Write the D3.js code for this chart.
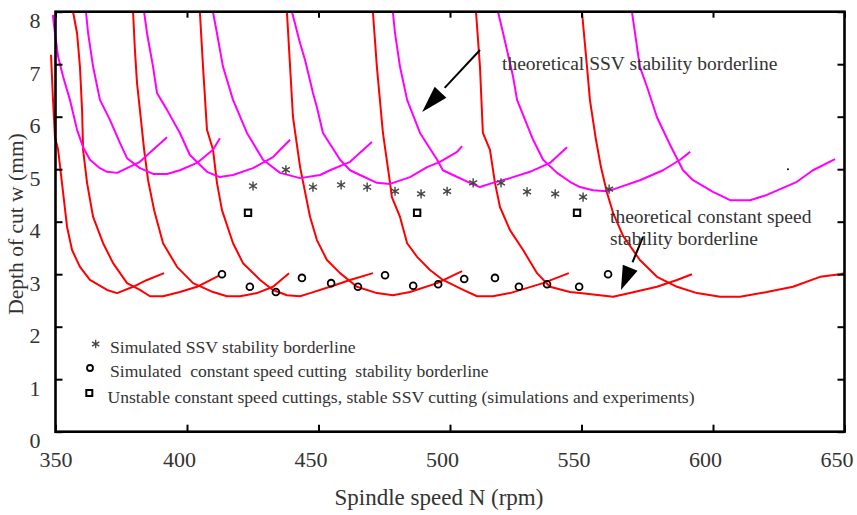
<!DOCTYPE html>
<html><head><meta charset="utf-8">
<script src="https://cdn.jsdelivr.net/npm/d3@7"></script>
<style>
html,body{margin:0;padding:0;background:#fff;}
svg{display:block;}
text{font-family:"Liberation Serif","Times New Roman",serif;fill:#333;}
</style></head>
<body><svg id="chart" width="857" height="515"></svg>
<script>
// ---------- data ----------
const xTicks = [350,400,450,500,550,600,650];
const yTicks = [0,1,2,3,4,5,6,7,8];
const xTitle = "Spindle speed N (rpm)";
const yTitle = "Depth of cut w (mm)";

// theoretical constant speed stability lobes (red) [N rpm, w mm]
const red1 = [[348.3,7.18],[349.0,6.38],[349.8,5.61],[351.0,5.37],[352.9,4.55],[354.4,3.90],[356.3,3.46],[359.3,3.14],[363.1,2.89],[369.6,2.70],[373.4,2.64],[379.5,2.76],[384.8,2.89],[391.3,3.02]];
const red2 = [[356.7,7.99],[358.2,7.59],[359.3,6.95],[360.1,6.13],[360.5,5.37],[362.0,4.74],[364.3,4.09],[368.1,3.59],[371.9,3.21],[377.2,2.83],[382.1,2.70],[385.9,2.58],[390.9,2.58],[397.3,2.66],[403.8,2.76],[412.0,2.97]];
const red3 = [[379.5,7.99],[380.2,7.27],[381.0,6.64],[382.5,5.94],[383.7,5.37],[385.2,4.79],[387.5,4.22],[390.9,3.59],[396.2,3.14],[402.3,2.83],[409.9,2.66],[415.2,2.58],[420.2,2.58],[426.6,2.64],[432.7,2.76],[438.8,3.02]];
const red4 = [[404.9,7.99],[406.1,6.95],[407.6,5.75],[409.9,5.37],[411.4,4.74],[413.3,4.22],[417.5,3.59],[421.3,3.21],[427.8,2.89],[432.7,2.70],[438.0,2.60],[443.0,2.58],[446.8,2.64],[454.4,2.76],[462.0,2.89],[470.7,3.02]];
const red5 = [[438.0,7.99],[439.2,6.95],[440.3,5.99],[443.0,5.04],[446.8,4.09],[449.4,3.65],[453.2,3.27],[458.2,3.02],[464.6,2.76],[472.2,2.64],[478.3,2.60],[484.8,2.66],[495.1,2.83],[504.6,3.06]];
const red6 = [[470.7,7.99],[472.2,6.95],[474.5,5.69],[477.2,4.74],[477.9,4.47],[481.0,4.09],[483.7,3.59],[487.5,3.33],[492.4,3.08],[497.3,2.89],[505.0,2.70],[510.3,2.58],[516.3,2.58],[522.8,2.64],[535.4,2.83],[545.2,3.02]];
const red7 = [[509.9,7.99],[511.4,6.95],[512.5,5.69],[515.2,5.37],[517.1,4.74],[519.0,4.28],[522.8,3.84],[527.8,3.46],[533.1,3.02],[538.0,2.76],[545.6,2.66],[549.4,2.64],[562.0,2.57],[568.4,2.64],[578.7,2.76],[586.3,2.89],[592.0,3.00]];
const red8 = [[550.2,7.99],[552.1,6.95],[553.2,6.32],[555.5,5.56],[557.4,5.04],[559.7,4.55],[562.0,4.17],[565.8,3.73],[572.2,3.27],[578.7,2.95],[586.3,2.76],[593.9,2.64],[602.7,2.57],[610.3,2.57],[620.5,2.66],[630.4,2.76],[640.7,2.95],[648.3,3.00],[650.0,3.02]];

// theoretical SSV stability lobes (magenta)
const ssv1 = [[349.0,7.94],[349.8,7.59],[351.0,7.14],[352.9,6.76],[355.5,6.32],[358.2,5.75],[360.5,5.42],[363.1,5.18],[366.9,5.02],[369.6,4.95],[373.4,4.93],[377.2,5.02],[382.1,5.14],[387.1,5.37],[392.4,5.61]];
const ssv2 = [[361.6,7.99],[362.4,7.59],[364.3,6.95],[366.9,6.32],[370.7,5.94],[374.5,5.50],[377.2,5.21],[382.1,5.02],[387.1,4.91],[392.4,4.91],[397.3,4.98],[403.8,5.12],[409.9,5.37],[412.5,5.59]];
const ssv3 = [[383.7,7.99],[384.8,7.59],[387.1,6.95],[388.6,6.45],[392.4,6.13],[397.3,5.69],[401.1,5.27],[407.6,4.95],[412.5,4.85],[417.5,4.89],[425.1,5.02],[432.7,5.23],[435.4,5.37],[439.2,5.56]];
const ssv4 = [[409.9,7.99],[411.4,7.59],[413.7,6.95],[417.5,6.32],[422.8,5.69],[428.9,5.18],[435.4,4.93],[443.0,4.83],[450.6,4.89],[454.4,4.98],[462.0,5.14],[470.3,5.52]];
const ssv5 = [[439.9,8.00],[443.0,7.40],[444.9,7.08],[447.9,6.45],[449.4,6.18],[451.7,5.69],[458.2,5.18],[462.0,4.98],[465.8,4.89],[472.2,4.74],[477.2,4.72],[484.8,4.85],[491.3,5.04],[496.2,5.14],[502.7,5.33],[504.6,5.44]];
const ssv6 = [[478.3,7.99],[479.1,7.59],[481.0,6.95],[483.7,6.32],[488.6,5.69],[495.1,5.18],[497.3,4.98],[501.1,4.89],[507.6,4.74],[511.4,4.66],[516.3,4.74],[522.8,4.83],[530.4,4.95],[538.0,5.12],[544.5,5.42]];
const ssv7 = [[518.3,7.99],[520.2,7.59],[524.0,6.76],[525.5,6.32],[531.6,5.56],[535.4,5.18],[540.7,4.93],[545.6,4.76],[549.4,4.66],[554.4,4.60],[559.7,4.58],[563.5,4.64],[572.2,4.79],[581.0,4.98],[587.5,5.18],[591.3,5.33]];
const ssv8 = [[569.2,7.99],[572.2,6.95],[574.9,6.57],[578.7,5.99],[583.7,5.46],[588.6,4.98],[592.4,4.79],[600.0,4.57],[606.5,4.41],[614.1,4.41],[620.5,4.51],[631.9,4.76],[638.0,4.98],[646.4,5.19]];

// simulated points
const starN = [425.1,437.6,447.9,458.6,468.5,479.1,489.0,498.9,508.8,519.4,529.3,540.0,550.6,560.5];
const starW = [4.68,4.99,4.66,4.70,4.66,4.58,4.53,4.58,4.74,4.74,4.57,4.53,4.47,4.62];
const circN = [413.3,423.9,433.8,443.7,454.8,465.0,475.3,486.0,495.5,505.4,517.1,526.2,536.9,549.1,560.1];
const circW = [3.00,2.76,2.66,2.93,2.83,2.76,2.98,2.78,2.81,2.91,2.93,2.76,2.81,2.76,3.00];
const sqN = [423.2,487.5,548.3];
const sqW = [4.17,4.17,4.17];
const strayN = [628.5];
const strayW = [5.0];

// legend & annotations
const legendLabels = [
  "Simulated SSV stability borderline",
  "Simulated  constant speed cutting  stability borderline",
  "Unstable constant speed cuttings, stable SSV cutting (simulations and experiments)"
];
const ssvNote = ["theoretical SSV stability borderline"];
const constNote = ["theoretical constant speed","stability borderline"];
const ssvArrow = {from:[511.4,7.27], to:[489.4,6.09]};
const constArrow = {from:[573.4,3.71], to:[565.0,2.70]};

// ---------- drawing ----------
const svg = d3.select("#chart");
const x = d3.scaleLinear().domain([350,650]).range([55.5,844.5]);
const y = d3.scaleLinear().domain([0,8]).range([431.7,11.7]);

const line = d3.line().x(d=>x(d[0])).y(d=>y(d[1]));

const gLines = svg.append("g").attr("fill","none").attr("stroke-width",2).attr("stroke-linejoin","round");
[red1,red2,red3,red4,red5,red6,red7,red8].forEach(l=>{
  gLines.append("path").attr("d",line(l)).attr("stroke","#ff0000");
});
[ssv1,ssv2,ssv3,ssv4,ssv5,ssv6,ssv7,ssv8].forEach(l=>{
  gLines.append("path").attr("d",line(l)).attr("stroke","#ff00ff");
});

// asterisk path
function asterisk(cx,cy,r){
  let p="";
  [90,30,150].forEach(a=>{
    const t=a*Math.PI/180, dx=r*Math.cos(t), dy=r*Math.sin(t);
    p+=`M${cx-dx},${cy-dy}L${cx+dx},${cy+dy}`;
  });
  return p;
}
const gm = svg.append("g");
starN.forEach((n,i)=>{
  gm.append("path").attr("d",asterisk(x(n),y(starW[i]),4.6)).attr("stroke","#444").attr("stroke-width",1.4).attr("fill","none");
});
circN.forEach((n,i)=>{
  gm.append("circle").attr("cx",x(n)).attr("cy",y(circW[i])).attr("r",3.4).attr("fill","none").attr("stroke","#000").attr("stroke-width",1.8);
});
sqN.forEach((n,i)=>{
  gm.append("rect").attr("x",x(n)-3.2).attr("y",y(sqW[i])-3.2).attr("width",6.4).attr("height",6.4).attr("fill","#fff").attr("stroke","#000").attr("stroke-width",2);
});
strayN.forEach((n,i)=>{
  gm.append("circle").attr("cx",x(n)).attr("cy",y(strayW[i])).attr("r",1).attr("fill","#000");
});

// axes
const gx = svg.append("g").attr("transform",`translate(0,${y(0)})`)
  .call(d3.axisBottom(x).tickValues(xTicks).tickSize(-7).tickSizeOuter(0));
gx.select(".domain").remove();
gx.selectAll(".tick line").attr("stroke","#000").attr("stroke-width",2);
gx.selectAll(".tick text").attr("dy",null).attr("y",35).attr("dx",d=>d===350?0:-8)
  .style("font-size","22px").attr("fill","#333");

const gxt = svg.append("g").attr("transform",`translate(0,${y(8)})`)
  .call(d3.axisTop(x).tickValues(xTicks).tickSize(-6).tickSizeOuter(0).tickFormat(""));
gxt.select(".domain").remove();
gxt.selectAll(".tick line").attr("stroke","#000").attr("stroke-width",2);

const gy = svg.append("g").attr("transform",`translate(${x(350)},0)`)
  .call(d3.axisLeft(y).tickValues(yTicks).tickSize(-7).tickSizeOuter(0));
gy.select(".domain").remove();
gy.selectAll(".tick line").attr("stroke","#000").attr("stroke-width",2);
gy.selectAll(".tick text").attr("dy",null).attr("y",16).attr("x",-15)
  .style("font-size","22px").attr("fill","#333");

const gyr = svg.append("g").attr("transform",`translate(${x(650)},0)`)
  .call(d3.axisRight(y).tickValues(yTicks).tickSize(-7).tickSizeOuter(0).tickFormat(""));
gyr.select(".domain").remove();
gyr.selectAll(".tick line").attr("stroke","#000").attr("stroke-width",2);

// frame
svg.append("rect").attr("x",x(350)).attr("y",y(8)).attr("width",x(650)-x(350)).attr("height",y(0)-y(8))
  .attr("fill","none").attr("stroke","#000").attr("stroke-width",2.6);

// axis titles
svg.append("text").attr("x",439).attr("y",505).attr("text-anchor","middle")
  .style("font-size","23px").text(xTitle);
svg.append("text").attr("transform",`translate(23,${224}) rotate(-90)`).attr("text-anchor","middle")
  .style("font-size","21.5px").text(yTitle);

// legend
const lg = svg.append("g");
const legRows = [353,377,403];
lg.append("path").attr("d",asterisk(95.7,344,4.2)).attr("stroke","#444").attr("stroke-width",1.3).attr("fill","none");
lg.append("circle").attr("cx",90).attr("cy",368).attr("r",3).attr("fill","none").attr("stroke","#000").attr("stroke-width",1.8);
lg.append("rect").attr("x",86.3).attr("y",390).attr("width",6).attr("height",6).attr("fill","#fff").attr("stroke","#000").attr("stroke-width",2);
legendLabels.forEach((t,i)=>{
  lg.append("text").attr("x",i===2?107.5:110).attr("y",legRows[i]).style("font-size","17.6px")
    .style("white-space","pre").attr("xml:space","preserve").text(t);
});

// annotations
function arrow(a,len,hw){
  const x1=x(a.from[0]), y1=y(a.from[1]), x2=x(a.to[0]), y2=y(a.to[1]);
  const L=Math.hypot(x2-x1,y2-y1), ux=(x2-x1)/L, uy=(y2-y1)/L;
  const bx=x2-ux*len, by=y2-uy*len;
  svg.append("line").attr("x1",x1).attr("y1",y1).attr("x2",bx-ux*6).attr("y2",by-uy*6)
    .attr("stroke","#000").attr("stroke-width",2);
  svg.append("path").attr("d",`M${x2},${y2}L${bx-uy*hw},${by+ux*hw}L${bx+uy*hw},${by-ux*hw}Z`).attr("fill","#000");
}
arrow(ssvArrow,27,8);
arrow(constArrow,24,8);
svg.append("text").attr("x",502).attr("y",70).style("font-size","19.5px").text(ssvNote[0]);
constNote.forEach((t,i)=>{
  svg.append("text").attr("x",610).attr("y",223+i*22).style("font-size","19.5px").text(t);
});
</script></body></html>
